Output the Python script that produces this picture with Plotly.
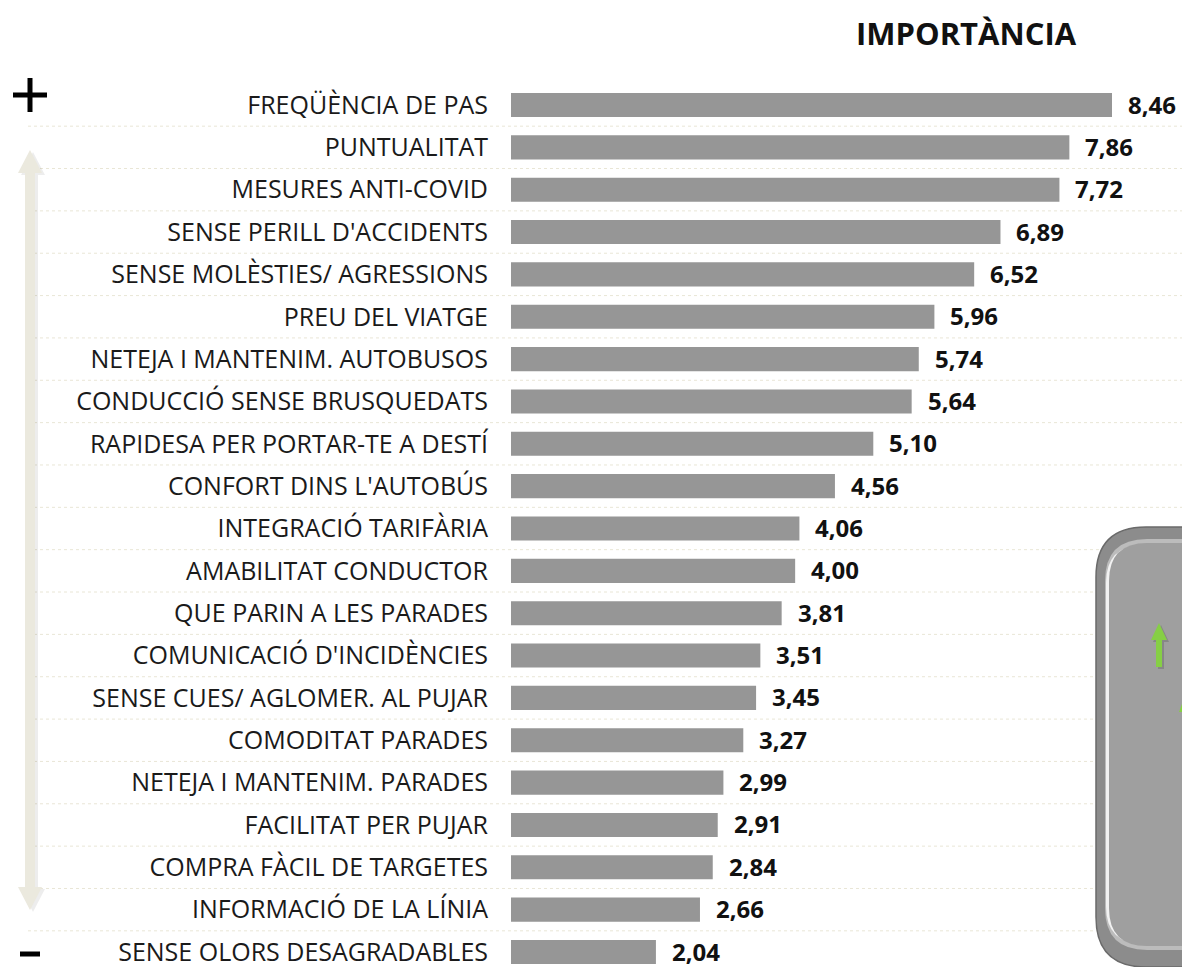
import plotly.graph_objects as go

categories = [
    "FREQÜÈNCIA DE PAS", "PUNTUALITAT", "MESURES ANTI-COVID",
    "SENSE PERILL D'ACCIDENTS", "SENSE MOLÈSTIES/ AGRESSIONS", "PREU DEL VIATGE",
    "NETEJA I MANTENIM. AUTOBUSOS", "CONDUCCIÓ SENSE BRUSQUEDATS",
    "RAPIDESA PER PORTAR-TE A DESTÍ", "CONFORT DINS L'AUTOBÚS",
    "INTEGRACIÓ TARIFÀRIA", "AMABILITAT CONDUCTOR", "QUE PARIN A LES PARADES",
    "COMUNICACIÓ D'INCIDÈNCIES", "SENSE CUES/ AGLOMER. AL PUJAR",
    "COMODITAT PARADES", "NETEJA I MANTENIM. PARADES", "FACILITAT PER PUJAR",
    "COMPRA FÀCIL DE TARGETES", "INFORMACIÓ DE LA LÍNIA", "SENSE OLORS DESAGRADABLES",
]
values = [8.46, 7.86, 7.72, 6.89, 6.52, 5.96, 5.74, 5.64, 5.10, 4.56, 4.06,
          4.00, 3.81, 3.51, 3.45, 3.27, 2.99, 2.91, 2.84, 2.66, 2.04]
value_labels = [f"{v:.2f}".replace(".", ",") for v in values]
title_text = "IMPORTÀNCIA"

W, H = 1182, 967
L = 511
PW = W - L

def px(x):
    return (x - L) / PW

def py(y):
    return 1 - y / H

n = len(categories)
row = 42.35
top_c = 105
y0 = -top_c / row
y1 = (n - 1) + (H - (top_c + (n - 1) * row)) / row

fig = go.Figure()
fig.add_trace(go.Bar(
    x=values, y=categories, orientation="h",
    marker=dict(color="#969696", line=dict(width=0)),
    width=0.57, hoverinfo="skip",
))

annotations = []
for cat, v, lab in zip(categories, values, value_labels):
    annotations.append(dict(x=v, y=cat, xref="x", yref="y", text=f"<b>{lab}</b>",
                            xanchor="left", yanchor="middle", xshift=14, yshift=1,
                            showarrow=False,
                            font=dict(family="Open Sans", size=24, color="#111111")))
annotations.append(dict(text=f"<b>{title_text}</b>", xref="paper", yref="paper",
                        x=px(966), y=py(33), xanchor="center", yanchor="middle",
                        showarrow=False,
                        font=dict(family="Open Sans", size=31, color="#111111")))

shapes = []
for i in range(n - 1):
    shapes.append(dict(type="line", xref="paper", yref="y",
                       x0=px(28), x1=px(W), y0=i + 0.5, y1=i + 0.5,
                       line=dict(color="#e9e6d6", width=1, dash="dot"), layer="below"))

def path_from(pts):
    return "M " + " L ".join(f"{px(x)},{py(y)}" for x, y in pts) + " Z"

arrow = [(30, 150), (42, 173), (35, 173), (35, 887), (42, 887), (30, 910),
         (18, 887), (25, 887), (25, 173), (18, 173)]
shadow = [(x + 3, y + 2) for x, y in arrow]
shapes.append(dict(type="path", xref="paper", yref="paper", path=path_from(shadow),
                   fillcolor="rgba(0,0,0,0.07)", line=dict(width=0)))
shapes.append(dict(type="path", xref="paper", yref="paper", path=path_from(arrow),
                   fillcolor="#ebe9de", line=dict(width=0)))
shapes.append(dict(type="line", xref="paper", yref="paper", x0=px(13), x1=px(47), y0=py(95), y1=py(95),
                   line=dict(color="#000000", width=5)))
shapes.append(dict(type="line", xref="paper", yref="paper", x0=px(30), x1=px(30), y0=py(78), y1=py(112),
                   line=dict(color="#000000", width=5)))
shapes.append(dict(type="line", xref="paper", yref="paper", x0=px(20), x1=px(40), y0=py(954), y1=py(954),
                   line=dict(color="#000000", width=5)))

def rounded(x0, ya, x1, yb, r):
    return (f"M {px(x0)},{py(ya + r)} "
            f"Q {px(x0)},{py(ya)} {px(x0 + r)},{py(ya)} "
            f"L {px(x1)},{py(ya)} L {px(x1)},{py(yb)} "
            f"L {px(x0 + r)},{py(yb)} "
            f"Q {px(x0)},{py(yb)} {px(x0)},{py(yb - r)} Z")

shapes.append(dict(type="path", xref="paper", yref="paper", path=rounded(1096, 527, 1230, 967, 50),
                   fillcolor="#8c8c8c", line=dict(color="#6a6a6a", width=1.5)))
shapes.append(dict(type="path", xref="paper", yref="paper", path=rounded(1105, 539, 1230, 950, 42),
                   fillcolor="#bcbcbc", line=dict(width=0)))
shapes.append(dict(type="path", xref="paper", yref="paper", path=rounded(1106, 545, 1230, 944, 38),
                   fillcolor="#f2f2f2", line=dict(width=0)))
shapes.append(dict(type="path", xref="paper", yref="paper", path=rounded(1109, 543, 1230, 946, 38),
                   fillcolor="#9f9f9f", line=dict(width=0)))
garrow = [(1159, 623), (1167, 640), (1162, 640), (1162, 667), (1156, 667), (1156, 640), (1151, 640)]
shapes.append(dict(type="path", xref="paper", yref="paper", path=path_from([(x + 2, y + 2) for x, y in garrow]),
                   fillcolor="rgba(0,0,0,0.15)", line=dict(width=0)))
shapes.append(dict(type="path", xref="paper", yref="paper", path=path_from(garrow),
                   fillcolor="#86cf45", line=dict(width=0)))
shapes.append(dict(type="path", xref="paper", yref="paper",
                   path=path_from([(1182, 704), (1186, 712), (1179, 712)]),
                   fillcolor="#86cf45", line=dict(width=0)))

fig.update_layout(
    width=W, height=H,
    margin=dict(l=L, r=0, t=0, b=0),
    paper_bgcolor="white", plot_bgcolor="white",
    showlegend=False,
    shapes=shapes,
    annotations=annotations,
    xaxis=dict(range=[0, PW / 71.04], visible=False, fixedrange=True),
    yaxis=dict(type="category", categoryorder="array", categoryarray=categories,
               range=[y1, y0], showgrid=False, zeroline=False, showline=False,
               ticks="", ticklabelstandoff=22, fixedrange=True,
               tickfont=dict(family="Open Sans", size=25, color="#1a1a1a")),
)

fig.write_html("out.html", config={"displayModeBar": False},
               post_script="document.body.style.margin='0';document.body.style.overflow='hidden';")
